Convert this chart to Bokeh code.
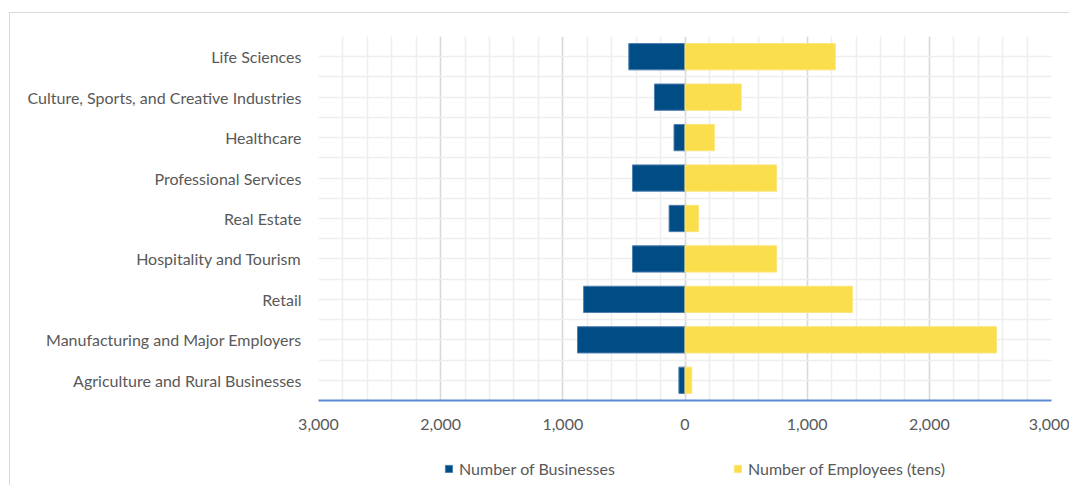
from bokeh.plotting import figure
from bokeh.layouts import column
from bokeh.models import (Range1d, SingleIntervalTicker, FixedTicker, Grid,
                          Legend, LegendItem, ColumnDataSource)
from bokeh.embed import file_html
from bokeh.resources import INLINE

# ---- data (bottom to top) ----
categories = [
    "Agriculture and Rural Businesses",
    "Manufacturing and Major Employers",
    "Retail",
    "Hospitality and Tourism",
    "Real Estate",
    "Professional Services",
    "Healthcare",
    "Culture, Sports, and Creative Industries",
    "Life Sciences",
]
businesses = [50, 880, 830, 430, 130, 430, 90, 250, 460]
employees_tens = [55, 2550, 1370, 750, 110, 750, 240, 460, 1230]
x_tick_values = [-3000, -2000, -1000, 0, 1000, 2000, 3000]
x_tick_labels = ["3,000", "2,000", "1,000", "0", "1,000", "2,000", "3,000"]
series_names = ["Number of Businesses", "Number of Employees (tens)"]

FONT = "Lato"
TXT = "#595959"
BLUE, BLUE_EDGE = "#004C85", "#4F7FB0"
YEL, YEL_EDGE = "#FADE4B", "#FBE57A"
BORDER = "1px solid #d9d9d9"

ypos = list(range(len(categories)))
src = ColumnDataSource(dict(
    y=ypos,
    neg_b=[-v for v in businesses],
    zero=[0] * len(categories),
    emp=employees_tens,
))

p = figure(width=1060, height=433, output_backend="svg", toolbar_location=None,
           x_range=Range1d(-3000, 3000), y_range=Range1d(-0.5, len(categories) - 0.5),
           min_border_left=308, min_border_top=23, min_border_right=19,
           min_border_bottom=46)
p.margin = (12, 0, 0, 9)
p.styles = {"border-top": BORDER, "border-left": BORDER}
p.outline_line_color = None
p.background_fill_color = "white"
p.border_fill_color = "white"

p.hbar(y="y", left="neg_b", right="zero", height=0.65, source=src,
       fill_color=BLUE, line_color=BLUE_EDGE, line_width=1)
p.hbar(y="y", left="zero", right="emp", height=0.65, source=src,
       fill_color=YEL, line_color=YEL_EDGE, line_width=1)

# x axis
xt = SingleIntervalTicker(interval=1000, num_minor_ticks=5)
p.xaxis.ticker = xt
p.xaxis.major_label_overrides = {v: l for v, l in zip(x_tick_values, x_tick_labels)}
p.xaxis.axis_line_color = "#5A8AD2"
p.xaxis.axis_line_width = 2
p.xaxis.major_tick_line_color = None
p.xaxis.minor_tick_line_color = None
p.xaxis.major_label_standoff = 12
p.xaxis.major_label_text_font = FONT
p.xaxis.major_label_text_font_size = "16px"
p.xaxis.major_label_text_color = TXT

p.xgrid.ticker = xt
p.xgrid.grid_line_color = "#d9d9d9"
p.xgrid.grid_line_width = 1.5
p.xgrid.minor_grid_line_color = "#eeeeee"
p.xgrid.minor_grid_line_width = 1.5

# y axis
p.yaxis.ticker = FixedTicker(ticks=ypos)
p.yaxis.major_label_overrides = {i: c for i, c in zip(ypos, categories)}
p.yaxis.axis_line_color = None
p.yaxis.major_tick_line_color = None
p.yaxis.minor_tick_line_color = None
p.yaxis.major_label_standoff = 11
p.yaxis.major_label_text_font = FONT
p.yaxis.major_label_text_font_size = "16px"
p.yaxis.major_label_text_color = TXT

p.ygrid.grid_line_color = None
half_ticks = [i * 0.5 - 0.5 for i in range(2 * len(categories) + 1)]
p.add_layout(Grid(dimension=1, ticker=FixedTicker(ticks=half_ticks),
                  grid_line_color="#eeeeee", grid_line_width=1.5))

# legend strip (separate figure so the legend is not clipped by the frame);
# its renderers reuse the same data but are hidden, only the swatches show
lg = figure(width=1060, height=40, output_backend="svg", toolbar_location=None,
            x_range=Range1d(-3000, 3000), y_range=Range1d(-0.5, len(categories) - 0.5),
            min_border=0, min_border_left=0, min_border_right=0,
            min_border_top=0, min_border_bottom=0)
lg.margin = (0, 0, 0, 9)
lg.styles = {"border-left": BORDER}
lg.axis.visible = False
lg.grid.visible = False
lg.outline_line_color = None
lg.border_fill_color = "white"
lg.background_fill_color = "white"
d1 = lg.hbar(y="y", left="neg_b", right="zero", height=0.65, source=src,
             fill_color=BLUE, line_color=BLUE_EDGE)
d2 = lg.hbar(y="y", left="zero", right="emp", height=0.65, source=src,
             fill_color=YEL, line_color=YEL_EDGE)
d1.visible = False
d2.visible = False
legend = Legend(items=[LegendItem(label=series_names[0], renderers=[d1]),
                       LegendItem(label=series_names[1], renderers=[d2])],
                location=(126, 7), orientation="horizontal",
                border_line_color=None, background_fill_alpha=0,
                padding=0, margin=0, glyph_width=9, glyph_height=9,
                label_standoff=6, spacing=118,
                inactive_fill_alpha=0,
                label_text_font=FONT, label_text_font_size="16px",
                label_text_color=TXT)
lg.add_layout(legend, "center")

layout = column(p, lg, spacing=0)
open("out.html", "w").write(file_html(layout, INLINE))
